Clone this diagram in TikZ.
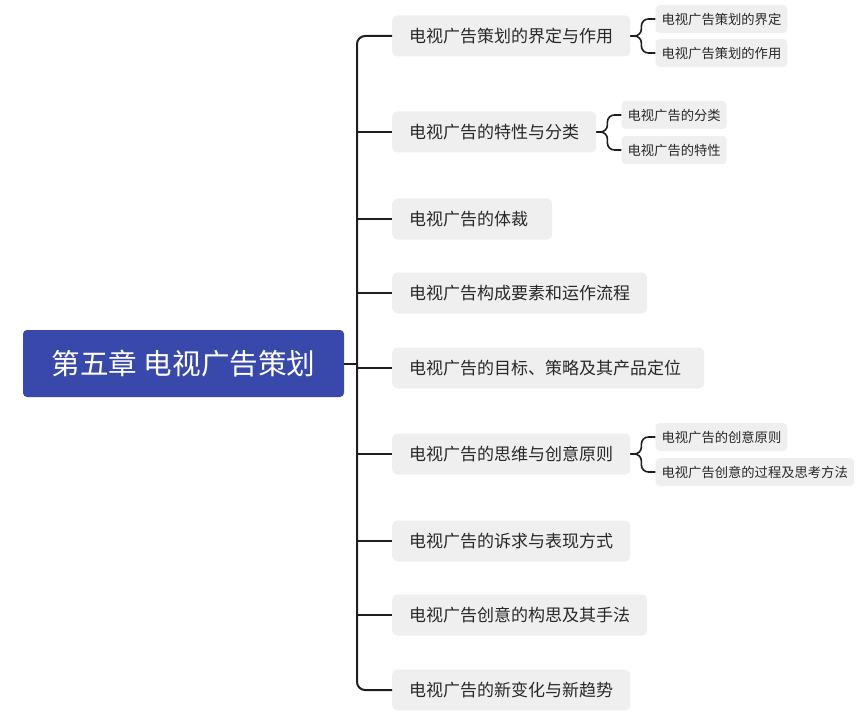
\documentclass[tikz,border=0pt]{standalone}
\usepackage{fontspec}
\setmainfont{Noto Sans CJK SC}
\usetikzlibrary{calc}
\definecolor{mainblue}{RGB}{57,73,171}
\definecolor{boxgray}{RGB}{239,239,239}
\definecolor{txt}{RGB}{40,40,40}
\definecolor{lin}{RGB}{30,30,30}
\begin{document}
\begin{tikzpicture}[x=1pt,y=-1pt,
  mainbox/.style={fill=mainblue,rounded corners=4pt,text=white,minimum width=321pt,minimum height=67pt,inner sep=0pt,font=\fontsize{28.6}{28.6}\selectfont},
  branchbox/.style={fill=boxgray,rounded corners=5pt,text=txt,anchor=west,inner xsep=17pt,inner ysep=0pt,minimum height=41pt,font=\fontsize{17}{17}\selectfont},
  subbox/.style={fill=boxgray,rounded corners=4pt,text=txt,anchor=west,inner xsep=6pt,inner ysep=0pt,minimum height=28pt,font=\fontsize{13.3}{13.3}\selectfont},
  trunkline/.style={draw=lin,line width=2pt,rounded corners=8pt},
  subline/.style={draw=lin,line width=1.6pt,rounded corners=7pt}]
\useasboundingbox (0,0) rectangle (858,719);
\node[mainbox] (main) at (183.5,363.5) {第五章 电视广告策划};
\coordinate (trunk) at (357,363.5);
\node[branchbox] (b1) at (392,36) {电视广告策划的界定与作用};
\node[branchbox] (b2) at (392,132) {电视广告的特性与分类};
\node[branchbox] (b3) at (392,219) {电视广告的体裁\kern7pt};
\node[branchbox] (b4) at (392,293) {电视广告构成要素和运作流程};
\node[branchbox] (b5) at (392,368) {电视广告的目标、策略及其产品定位\kern6pt};
\node[branchbox] (b6) at (392,454) {电视广告的思维与创意原则};
\node[branchbox] (b7) at (392,541) {电视广告的诉求与表现方式};
\node[branchbox] (b8) at (392,615) {电视广告创意的构思及其手法};
\node[branchbox] (b9) at (392,690) {电视广告的新变化与新趋势};
\node[subbox] (s11) at ($(b1.east)+(25,-17)$) {电视广告策划的界定};
\node[subbox] (s12) at ($(b1.east)+(25,17)$) {电视广告策划的作用};
\node[subbox] (s21) at ($(b2.east)+(25,-17)$) {电视广告的分类};
\node[subbox] (s22) at ($(b2.east)+(25,18)$) {电视广告的特性};
\node[subbox] (s61) at ($(b6.east)+(25,-17)$) {电视广告的创意原则};
\node[subbox] (s62) at ($(b6.east)+(25,18)$) {电视广告创意的过程及思考方法};
% trunk
\draw[trunkline] (main.east) -- (main.east -| trunk);
\draw[trunkline] (b1.west) -| (trunk) |- (b9.west);
\foreach \b in {b2,b3,b4,b5,b6,b7,b8}{
  \draw[trunkline] (\b.west -| trunk) -- (\b.west);
}
% sub forks
\foreach \b/\s in {b1/s11,b1/s12,b2/s21,b2/s22,b6/s61,b6/s62}{
  \draw[subline] (\b.east) -- ($(\b.east)+(11,0)$) |- (\s.west);
}
\end{tikzpicture}
\end{document}
